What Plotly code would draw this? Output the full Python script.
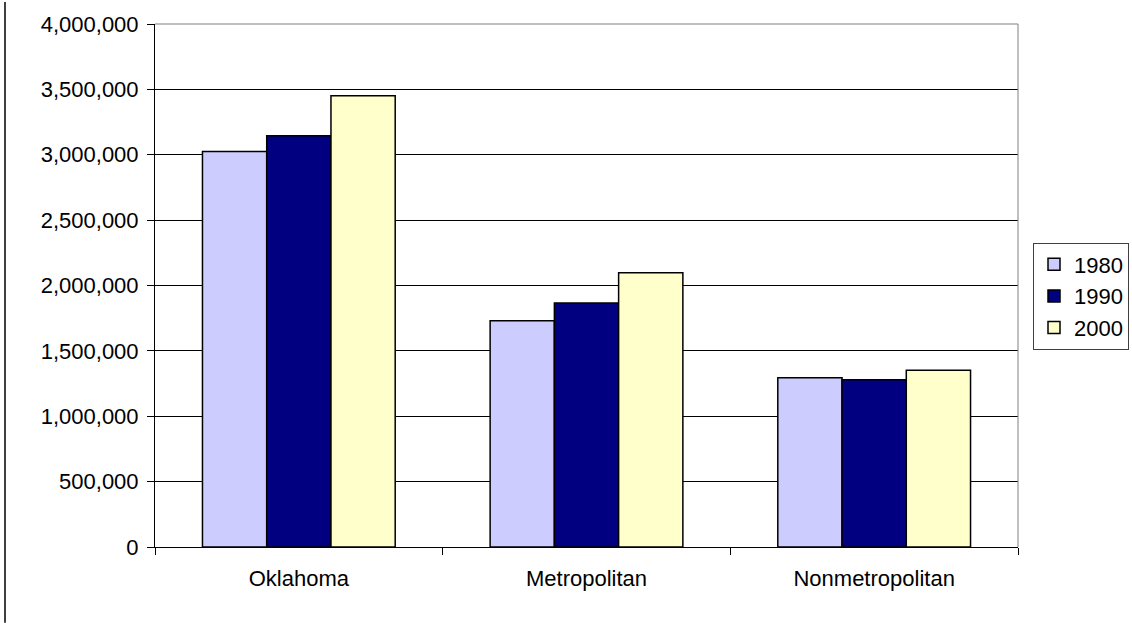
import plotly.graph_objects as go

categories = ["Oklahoma", "Metropolitan", "Nonmetropolitan"]
years = ["1980", "1990", "2000"]
values_1980 = [3025290, 1731000, 1294290]
values_1990 = [3145585, 1867000, 1278585]
values_2000 = [3450654, 2098000, 1352654]
colors = ["#CCCCFF", "#000080", "#FFFFCC"]

series = [values_1980, values_1990, values_2000]

fig = go.Figure()
for name, vals, col in zip(years, series, colors):
    fig.add_trace(go.Bar(
        x=categories, y=vals, name=name, legendgroup=name,
        marker=dict(color=col, line=dict(color="black", width=1.5)),
    ))

L, R, T, B = 155, 114, 22, 76
W, H = 1132, 623
pw, ph = W - L - R, H - T - B

fig.update_layout(
    width=W, height=H,
    margin=dict(l=L, r=R, t=T, b=B, pad=0),
    paper_bgcolor="white", plot_bgcolor="white",
    barmode="group", bargap=0.33, bargroupgap=0,
    font=dict(family="Liberation Sans, Arial, sans-serif", size=22, color="black"),
    showlegend=True,
    legend=dict(
        xref="container", yref="container",
        x=1129 / W, xanchor="right",
        y=1 - 296 / H, yanchor="middle",
        bordercolor="#404040", borderwidth=1,
        font=dict(size=22), bgcolor="white",
        itemwidth=30, tracegroupgap=0,
    ),
    xaxis=dict(
        showline=True, linecolor="black", linewidth=1,
        ticks="outside", ticklen=7, tickcolor="black",
        tickson="boundaries", showgrid=False,
        tickfont=dict(size=22), ticklabelstandoff=12,
    ),
    yaxis=dict(
        range=[0, 4000000], dtick=500000, tickformat=",",
        showline=True, linecolor="black", linewidth=1,
        ticks="outside", ticklen=7, tickcolor="black",
        showgrid=True, gridcolor="black", gridwidth=1,
        zeroline=False, tickfont=dict(size=22), ticklabelstandoff=4,
    ),
)

# gray plot-area border on top and right
fig.add_shape(type="line", xref="paper", yref="paper", x0=0, x1=1, y0=1, y1=1,
              line=dict(color="#808080", width=1))
fig.add_shape(type="line", xref="paper", yref="paper", x0=1, x1=1, y0=0, y1=1,
              line=dict(color="#808080", width=1))
# outer chart frame left edge
fig.add_shape(type="line", xref="paper", yref="paper",
              x0=(5 - L) / pw, x1=(5 - L) / pw, y0=-B / ph, y1=1 + T / ph,
              line=dict(color="black", width=1.5))

fig.write_html("out.html")
